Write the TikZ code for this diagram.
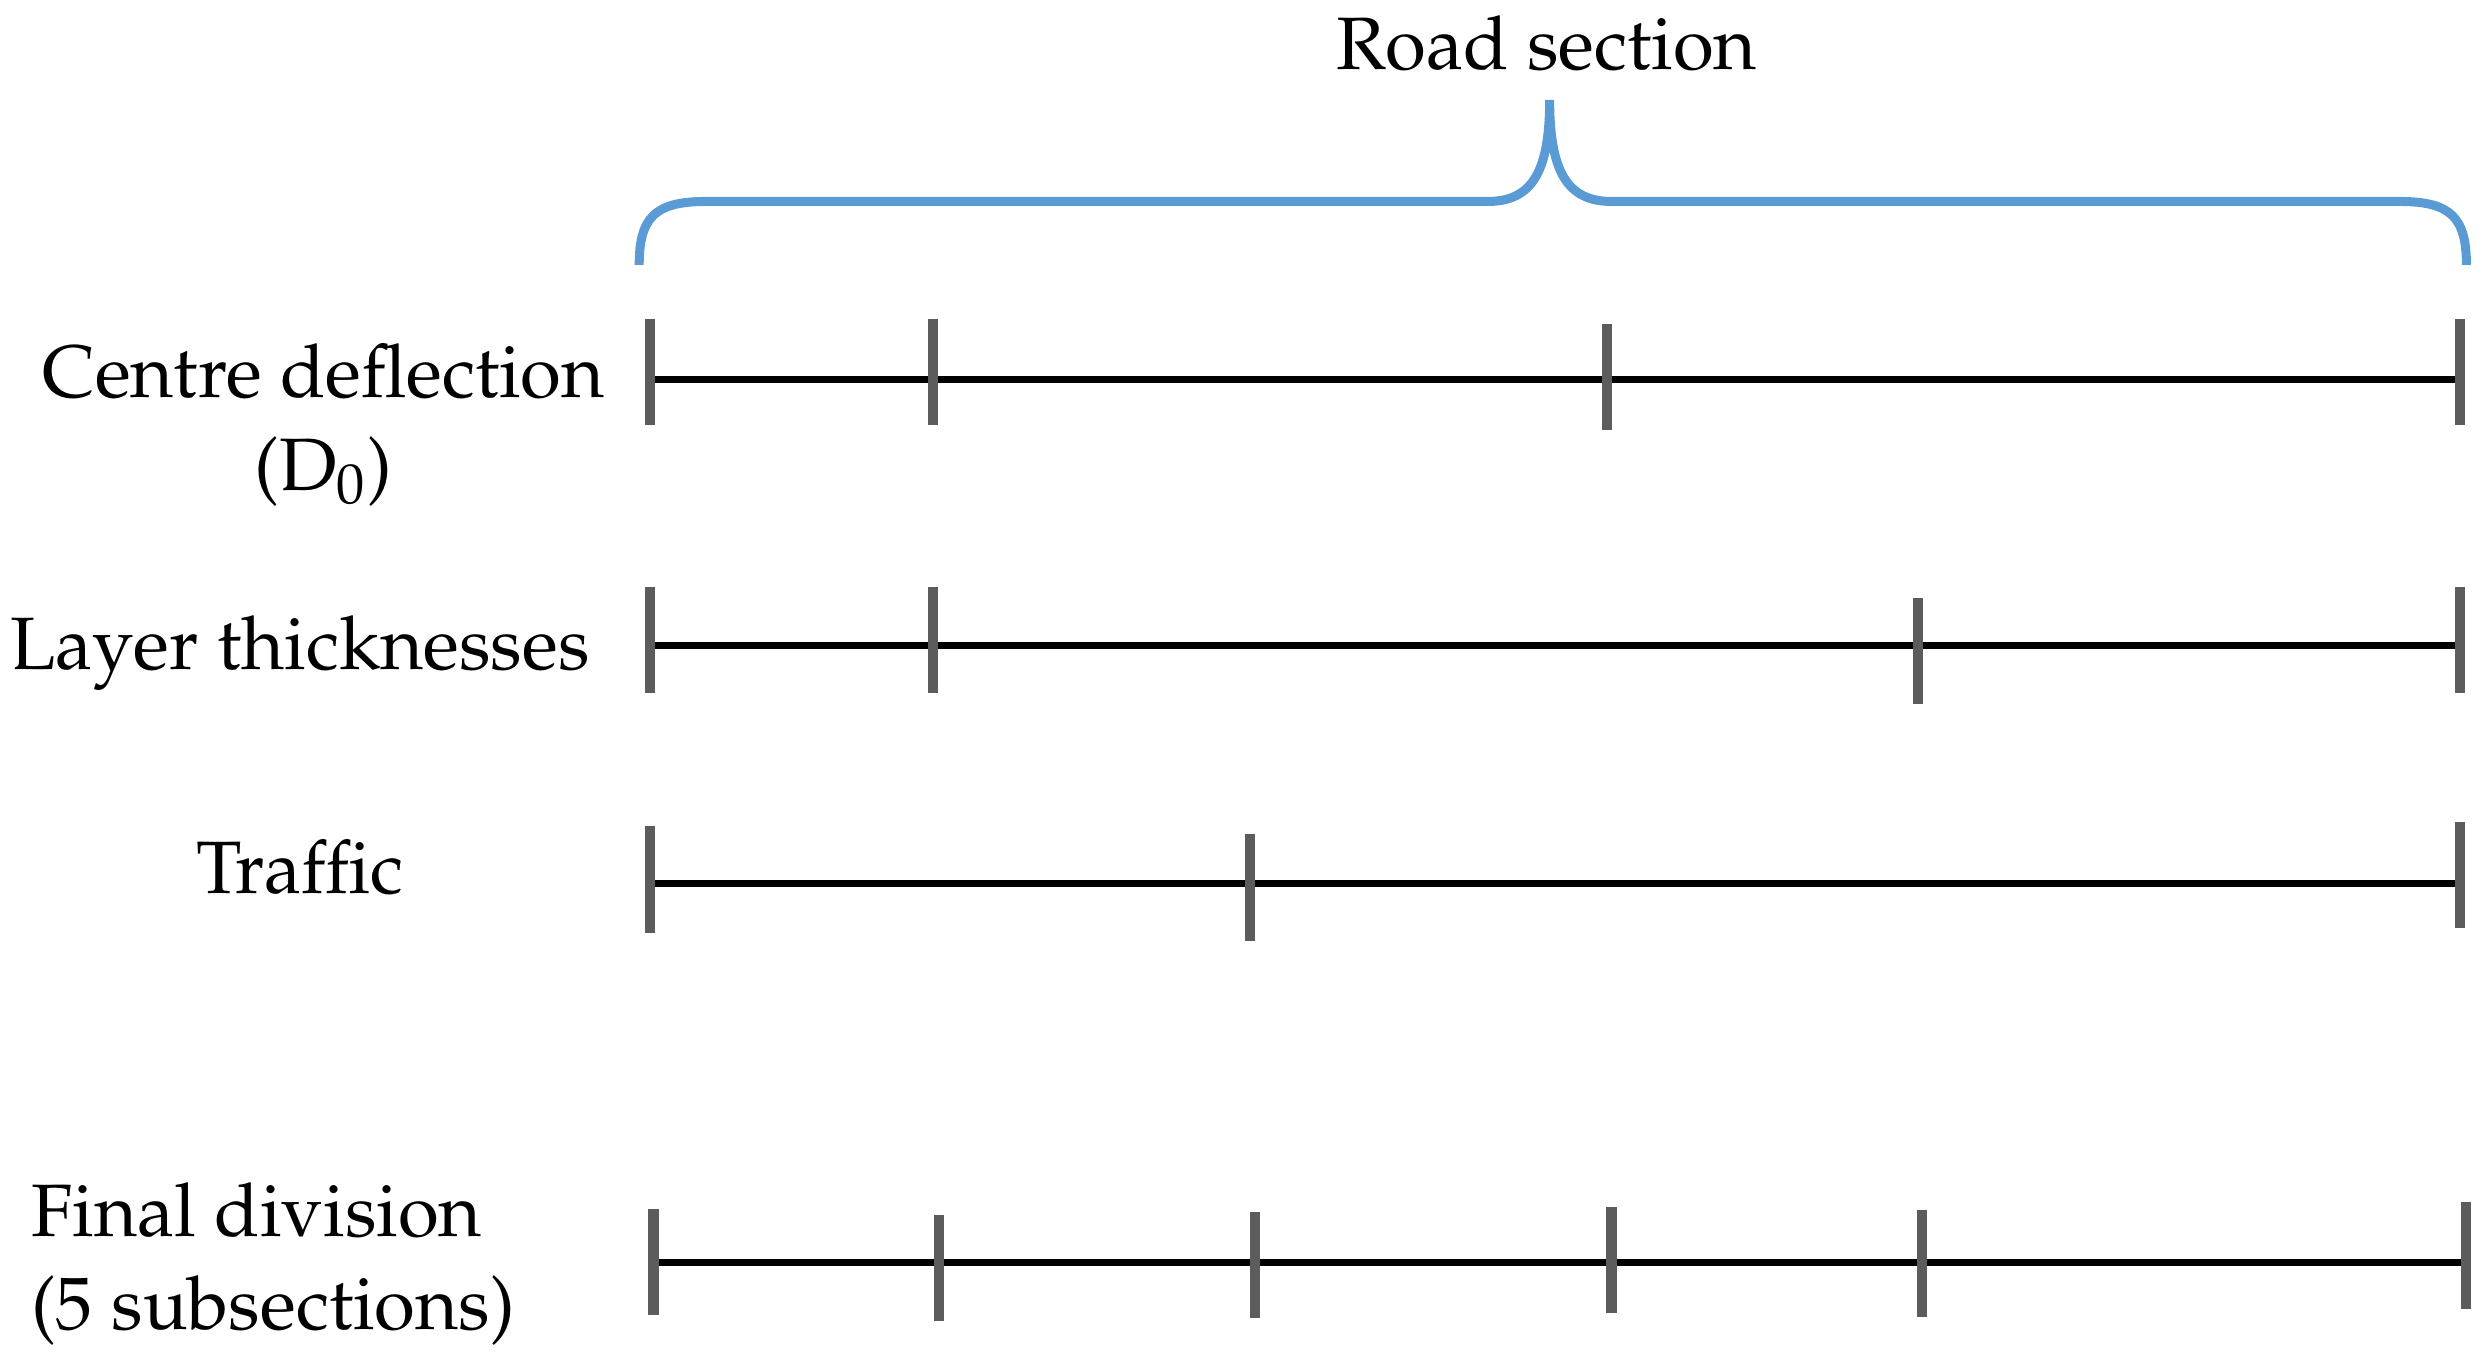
\documentclass[tikz,border=0pt]{standalone}
\usepackage[T1]{fontenc}
\usepackage{mathpazo}
\definecolor{braceblue}{HTML}{5B9BD5}
\definecolor{tickgrey}{HTML}{5C5C5C}
\begin{document}
\begin{tikzpicture}[x=0.299pt,y=-0.299pt,
  rowlabel/.style={font=\fontsize{14}{17.4}\selectfont, inner sep=0pt, anchor=base},
  rowline/.style={line width=1.3pt},
  tickmark/.style={tickgrey, line width=1.9pt}]
  \useasboundingbox (0,0) rectangle (1568,855.5);

  % Veistrekning
  \node[rowlabel] (title) at (975,44) {Road section};
  \draw[braceblue, line width=1.7pt] (403,167) .. controls (403,137) and (413,127) .. (445,127)
    -- (938,127) .. controls (966,127) and (977,108) .. (977,63)
    .. controls (977,108) and (988,127) .. (1016,127)
    -- (1513,127) .. controls (1545,127) and (1555,137) .. (1555,167);

  % Linjer
  \foreach \name/\y/\xa/\xb in {defl/239/410/1551,layer/407/410/1551,traffic/557/410/1551,final/796/412/1555} {
    \coordinate (\name-start) at (\xa,\y);
    \coordinate (\name-end) at (\xb,\y);
    \draw[rowline] (\name-start) -- (\name-end);
  }

  % Delepunkter
  \foreach \x/\t in {410/201,588/201,1013/204,1551/201,
                     410/370,588/370,1209/377,1551/370,
                     410/521,788/526,1551/518,
                     412/762,592/766,791/764,1016/761,1212/763,1555/758} {
    \draw[tickmark] (\x,\t) -- ++(0,67);
  }

  % Etiketter
  \node[rowlabel, align=center] (deflLabel) at (204,309) {Centre deflection\\(D$_0$)};
  \node[rowlabel] (layerLabel) at (189,422) {Layer thicknesses};
  \node[rowlabel] (trafficLabel) at (189,563) {Traffic};
  \node[rowlabel, align=left, anchor=base west] (finalLabel) at (19,838) {Final division\\(5 subsections)};
\end{tikzpicture}
\end{document}
